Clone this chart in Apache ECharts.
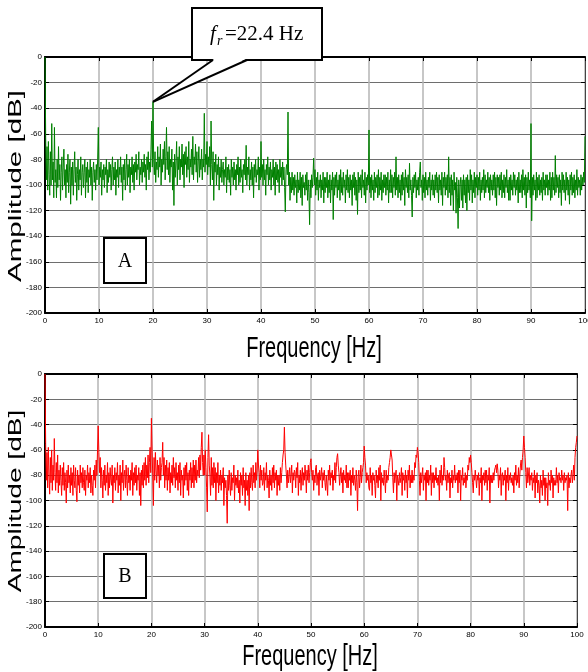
<!DOCTYPE html>
<html>
<head>
<meta charset="utf-8">
<script src="https://cdn.jsdelivr.net/npm/echarts@6/dist/echarts.min.js"></script>
<style>
html,body{margin:0;padding:0;background:#fff;}
#chart{width:588px;height:672px;}
</style>
</head>
<body>
<div id="chart"></div>
<script>
// Sampling step of the spectra (Hz)
const freqStepHz = 0.125;

// Panel A amplitudes [dB], 0..100 Hz, one row per Hz (8 samples)
const ampA = [
  0, -62, -96, -70, -104, -66, -92, -108,
  -74, -100, -52, -96, -82, -110, -55, -98,
  -88, -110, -80, -102, -70, -96, -84, -112,
  -90, -78, -104, -86, -72, -100, -88, -110,
  -84, -98, -76, -106, -90, -80, -115, -86,
  -100, -82, -108, -88, -74, -98, -86, -112,
  -92, -80, -104, -88, -96, -78, -108, -90,
  -84, -102, -90, -80, -110, -86, -98, -82,
  -106, -88, -94, -80, -100, -86, -112, -90,
  -82, -98, -88, -104, -84, -96, -80, -55,
  -100, -86, -94, -82, -108, -88, -96, -84,
  -102, -86, -92, -80, -106, -88, -98, -82,
  -94, -84, -104, -88, -78, -100, -86, -96,
  -82, -108, -88, -94, -80, -102, -86, -92,
  -78, -98, -86, -112, -84, -96, -80, -104,
  -88, -76, -100, -84, -94, -80, -106, -86,
  -92, -78, -98, -84, -104, -82, -90, -76,
  -96, -84, -88, -74, -100, -86, -92, -80,
  -98, -82, -90, -76, -94, -84, -104, -78,
  -88, -74, -96, -82, -90, -72, -50, -86,
  -35, -80, -92, -74, -98, -82, -88, -70,
  -94, -78, -86, -68, -100, -80, -90, -72,
  -84, -66, -96, -78, -55, -88, -74, -92,
  -70, -98, -80, -86, -72, -104, -82, -116,
  -76, -94, -82, -66, -100, -78, -88, -70,
  -96, -80, -86, -68, -92, -76, -102, -74,
  -84, -70, -94, -78, -88, -66, -98, -80,
  -86, -72, -92, -62, -96, -78, -84, -68,
  -90, -74, -98, -82, -70, -94, -80, -88,
  -72, -96, -80, -86, -44, -90, -76, -84,
  -66, -92, -78, -86, -70, -100, -50, -84,
  -96, -74, -112, -82, -90, -76, -100, -84,
  -92, -78, -104, -86, -94, -80, -98, -88,
  -82, -100, -88, -94, -78, -106, -86, -96,
  -84, -98, -88, -108, -80, -94, -86, -100,
  -82, -96, -88, -104, -84, -92, -78, -100,
  -86, -98, -80, -94, -88, -106, -84, -92,
  -80, -96, -69, -100, -86, -92, -78, -104,
  -88, -96, -82, -100, -86, -110, -84, -94,
  -80, -98, -88, -92, -78, -104, -86, -96,
  -66, -94, -84, -100, -80, -96, -88, -108,
  -84, -92, -78, -100, -86, -96, -82, -104,
  -88, -94, -80, -100, -86, -108, -82, -96,
  -84, -98, -88, -106, -80, -94, -86, -100,
  -82, -96, -86, -102, -121, -88, -84, -92,
  -43, -100, -90, -112, -94, -106, -90, -104,
  -94, -108, -92, -102, -96, -114, -90, -106,
  -96, -104, -90, -110, -94, -116, -92, -102,
  -98, -108, -92, -104, -90, -112, -96, -106,
  -131, -96, -110, -92, -102, -94, -79, -100,
  -88, -108, -94, -104, -90, -112, -96, -102,
  -92, -110, -96, -104, -90, -114, -94, -106,
  -94, -102, -90, -110, -96, -106, -92, -114,
  -96, -104, -90, -127, -94, -108, -92, -102,
  -90, -110, -96, -104, -92, -112, -88, -106,
  -94, -108, -90, -102, -96, -114, -92, -104,
  -88, -106, -94, -110, -92, -104, -96, -116,
  -92, -102, -90, -108, -94, -112, -96, -123,
  -90, -106, -94, -104, -92, -110, -88, -102,
  -96, -108, -90, -114, -94, -104, -92, -100,
  -57, -106, -94, -110, -92, -104, -96, -112,
  -90, -106, -94, -102, -92, -110, -88, -108,
  -94, -104, -90, -112, -96, -106, -92, -102,
  -92, -108, -94, -104, -90, -114, -96, -106,
  -88, -106, -92, -110, -94, -102, -90, -108,
  -78, -104, -94, -110, -92, -106, -96, -112,
  -92, -108, -90, -104, -94, -116, -88, -102,
  -94, -106, -92, -110, -83, -104, -96, -108,
  -125, -94, -106, -92, -102, -90, -110, -96,
  -104, -94, -108, -90, -82, -102, -96, -112,
  -92, -106, -94, -110, -90, -104, -96, -108,
  -94, -102, -90, -112, -96, -104, -92, -108,
  -96, -110, -92, -104, -90, -106, -94, -114,
  -92, -104, -96, -108, -90, -116, -94, -102,
  -90, -108, -94, -104, -92, -110, -78, -106,
  -94, -116, -92, -108, -96, -120, -90, -104,
  -98, -122, -94, -110, -134, -96, -118, -100,
  -94, -112, -96, -118, -92, -108, -96, -114,
  -94, -120, -92, -106, -96, -112, -88, -104,
  -92, -114, -96, -106, -90, -110, -94, -102,
  -92, -108, -94, -104, -90, -112, -96, -106,
  -94, -104, -88, -110, -92, -106, -96, -102,
  -90, -106, -94, -112, -92, -104, -96, -108,
  -92, -104, -90, -110, -94, -116, -92, -102,
  -94, -108, -92, -104, -90, -110, -96, -106,
  -92, -110, -94, -102, -88, -106, -96, -112,
  -94, -112, -92, -104, -96, -108, -90, -102,
  -92, -108, -96, -104, -94, -114, -90, -106,
  -96, -106, -92, -110, -88, -104, -94, -108,
  -92, -118, -94, -106, -90, -104, -96, -110,
  -52, -128, -94, -108, -92, -104, -96, -112,
  -90, -110, -94, -104, -92, -108, -96, -106,
  -94, -112, -90, -104, -96, -108, -92, -102,
  -92, -108, -96, -104, -90, -112, -94, -110,
  -90, -104, -94, -108, -77, -106, -92, -102,
  -94, -110, -92, -106, -96, -116, -90, -104,
  -92, -106, -96, -112, -90, -104, -94, -108,
  -96, -115, -92, -104, -90, -108, -94, -106,
  -92, -110, -96, -104, -88, -108, -94, -102,
  -96, -108, -92, -104, -94, -100, -90, -98,
  -62
];

// Panel B amplitudes [dB], 0..100 Hz, one row per Hz (8 samples)
const ampB = [
  0, -55, -84, -62, -90, -58, -80, -95,
  -66, -86, -60, -92, -72, -84, -51, -78,
  -92, -70, -86, -64, -94, -76, -88, -72,
  -84, -96, -74, -88, -70, -92, -78, -86,
  -102, -76, -90, -72, -86, -80, -94, -74,
  -88, -78, -96, -72, -84, -90, -74, -92,
  -101, -76, -88, -80, -94, -72, -86, -78,
  -90, -74, -86, -92, -76, -96, -80, -84,
  -72, -90, -78, -86, -74, -94, -80, -88,
  -96, -76, -84, -72, -90, -68, -80, -60,
  -41, -62, -78, -66, -90, -74, -84, -98,
  -76, -88, -72, -92, -80, -86, -70, -96,
  -78, -90, -74, -84, -88, -72, -102, -80,
  -86, -74, -92, -78, -84, -70, -94, -80,
  -88, -72, -100, -78, -86, -68, -92, -80,
  -76, -90, -72, -84, -96, -74, -86, -80,
  -92, -76, -84, -70, -96, -78, -88, -74,
  -86, -72, -92, -80, -84, -74, -96, -78,
  -104, -76, -88, -72, -90, -70, -84, -66,
  -88, -72, -82, -64, -86, -70, -58, -78,
  -35, -60, -80, -104, -66, -84, -62, -76,
  -86, -68, -80, -72, -90, -66, -84, -74,
  -70, -54, -80, -66, -90, -72, -84, -68,
  -92, -74, -84, -70, -94, -78, -86, -72,
  -88, -66, -82, -74, -90, -70, -84, -78,
  -92, -72, -86, -70, -96, -76, -84, -80,
  -98, -74, -88, -72, -84, -70, -92, -78,
  -96, -76, -84, -70, -90, -74, -86, -68,
  -90, -72, -84, -68, -86, -76, -80, -66,
  -82, -64, -76, -58, -46, -70, -80, -64,
  -80, -60, -74, -90, -109, -66, -48, -72,
  -80, -96, -66, -88, -74, -90, -70, -86,
  -74, -100, -78, -86, -70, -94, -80, -88,
  -76, -92, -80, -86, -74, -104, -82, -90,
  -84, -96, -118, -80, -92, -76, -88, -96,
  -78, -92, -82, -86, -72, -100, -80, -88,
  -82, -90, -76, -94, -84, -102, -78, -88,
  -80, -96, -74, -90, -84, -104, -78, -92,
  -84, -96, -80, -108, -78, -90, -74, -86,
  -92, -72, -86, -78, -90, -70, -84, -76,
  -60, -72, -78, -90, -72, -84, -76, -88,
  -86, -74, -92, -78, -84, -70, -90, -80,
  -84, -98, -76, -88, -80, -92, -74, -86,
  -72, -90, -78, -84, -76, -96, -80, -88,
  -80, -92, -74, -86, -78, -70, -64, -60,
  -42, -62, -72, -80, -90, -76, -86, -80,
  -74, -86, -80, -72, -94, -78, -84, -76,
  -78, -90, -74, -82, -70, -96, -80, -86,
  -76, -92, -80, -74, -88, -78, -84, -72,
  -80, -94, -76, -84, -72, -86, -78, -70,
  -67, -78, -84, -76, -92, -80, -86, -74,
  -72, -88, -80, -78, -96, -76, -84, -80,
  -74, -90, -78, -84, -76, -86, -92, -80,
  -80, -96, -76, -84, -72, -88, -78, -82,
  -76, -92, -80, -84, -70, -86, -74, -66,
  -63, -72, -78, -88, -80, -74, -86, -78,
  -94, -76, -84, -80, -86, -72, -90, -78,
  -90, -78, -84, -76, -96, -80, -86, -74,
  -88, -80, -84, -92, -76, -86, -108, -80,
  -76, -90, -82, -72, -86, -78, -74, -70,
  -57, -66, -72, -86, -78, -84, -80, -90,
  -92, -74, -86, -80, -96, -78, -84, -80,
  -88, -98, -76, -86, -80, -90, -74, -84,
  -72, -100, -78, -86, -82, -88, -76, -84,
  -94, -76, -86, -80, -84, -74, -70, -66,
  -60, -64, -68, -82, -94, -78, -86, -80,
  -76, -100, -80, -84, -88, -78, -86, -82,
  -74, -96, -78, -84, -80, -92, -76, -86,
  -80, -98, -76, -84, -72, -90, -80, -86,
  -76, -86, -80, -84, -70, -74, -64, -66,
  -58, -62, -70, -84, -96, -78, -86, -80,
  -74, -92, -80, -84, -78, -100, -76, -86,
  -76, -88, -80, -84, -72, -96, -78, -86,
  -78, -90, -80, -84, -74, -86, -82, -88,
  -80, -100, -76, -86, -72, -88, -80, -84,
  -66, -74, -84, -80, -92, -76, -86, -80,
  -78, -98, -82, -86, -76, -90, -80, -84,
  -72, -86, -80, -84, -78, -94, -76, -86,
  -76, -100, -80, -84, -74, -88, -82, -86,
  -78, -90, -80, -84, -72, -76, -66, -70,
  -64, -70, -78, -86, -94, -80, -84, -76,
  -76, -90, -80, -84, -78, -96, -82, -86,
  -74, -100, -80, -84, -78, -88, -76, -86,
  -76, -92, -80, -84, -74, -102, -80, -86,
  -80, -86, -78, -84, -76, -74, -72, -78,
  -71, -76, -90, -80, -84, -74, -96, -80,
  -78, -88, -80, -84, -76, -100, -80, -86,
  -74, -92, -80, -84, -78, -86, -82, -88,
  -80, -94, -78, -84, -72, -88, -80, -86,
  -74, -90, -80, -72, -68, -76, -66, -60,
  -49, -58, -66, -78, -90, -74, -86, -80,
  -74, -88, -80, -84, -78, -92, -82, -86,
  -76, -98, -80, -86, -78, -94, -84, -88,
  -102, -80, -90, -84, -96, -76, -88, -82,
  -100, -82, -90, -86, -104, -78, -88, -84,
  -92, -76, -86, -80, -98, -82, -88, -84,
  -88, -74, -86, -80, -94, -78, -84, -82,
  -86, -76, -84, -80, -92, -78, -86, -82,
  -84, -80, -108, -78, -90, -82, -86, -80,
  -76, -86, -80, -72, -84, -66, -58, -54,
  -49
];

// Annotated peak
const peakFreq = 20;
const peakAmp = -35;
const peakLabel = '=22.4 Hz';

const toPairs = arr => arr.map((v, i) => [i * freqStepHz, v]);

const tickFont = 'Liberation Sans Narrow, Liberation Sans, Arial, sans-serif';

function xAxes(gridIndex) {
  return [
    {
      gridIndex, type: 'value', min: 0, max: 100, interval: 10, position: 'bottom',
      axisLine: { show: true, onZero: false, lineStyle: { color: '#000', width: 2 } },
      axisTick: { show: true, inside: true, length: 4, lineStyle: { color: '#000', width: 1 } },
      axisLabel: { fontSize: 8, color: '#000', margin: 4, fontFamily: tickFont },
      splitLine: { show: true, lineStyle: { color: '#b4b4b4', width: 1.5 } }
    },
    {
      gridIndex, type: 'value', min: 0, max: 100, interval: 10, position: 'top',
      axisLine: { show: true, onZero: false, lineStyle: { color: '#000', width: 2 } },
      axisTick: { show: true, inside: true, length: 4, lineStyle: { color: '#000', width: 1 } },
      axisLabel: { show: false },
      splitLine: { show: false }
    }
  ];
}
function yAxes(gridIndex) {
  return [
    {
      gridIndex, type: 'value', min: -200, max: 0, interval: 20, position: 'left',
      axisLine: { show: true, onZero: false, lineStyle: { color: '#000', width: 2 } },
      axisTick: { show: true, inside: true, length: 4, lineStyle: { color: '#000', width: 1 } },
      axisLabel: { fontSize: 8, color: '#000', margin: 3, fontFamily: tickFont },
      splitLine: { show: true, lineStyle: { color: '#6e6e6e', width: 1.2 } }
    },
    {
      gridIndex, type: 'value', min: -200, max: 0, interval: 20, position: 'right',
      axisLine: { show: true, onZero: false, lineStyle: { color: '#444', width: 1 } },
      axisTick: { show: true, inside: true, length: 4, lineStyle: { color: '#000', width: 1 } },
      axisLabel: { show: false },
      splitLine: { show: false }
    }
  ];
}

const chart = echarts.init(document.getElementById('chart'), null, { renderer: 'canvas' });

chart.setOption({
  animation: false,
  backgroundColor: '#fff',
  grid: [
    { left: 45, top: 57, width: 540, height: 256, containLabel: false, outerBoundsMode: 'none' },
    { left: 45, top: 374, width: 532, height: 253, containLabel: false, outerBoundsMode: 'none' }
  ],
  xAxis: [...xAxes(0), ...xAxes(1)],
  yAxis: [...yAxes(0), ...yAxes(1)],
  series: [
    {
      type: 'line', xAxisIndex: 0, yAxisIndex: 0, data: toPairs(ampA),
      showSymbol: false, symbol: 'none', lineStyle: { color: '#008000', width: 1 }, z: 3
    },
    {
      type: 'line', xAxisIndex: 2, yAxisIndex: 2, data: toPairs(ampB),
      showSymbol: false, symbol: 'none', lineStyle: { color: '#ff0000', width: 1 }, z: 3
    }
  ]
});

const tip = chart.convertToPixel({ xAxisIndex: 0, yAxisIndex: 0 }, [peakFreq, peakAmp]);
const serif = 'Liberation Serif, Times New Roman, serif';
const sans = 'Liberation Sans, Arial, sans-serif';

chart.setOption({
  graphic: [
    // callout box
    { type: 'rect', z: 100, shape: { x: 192, y: 8, width: 130, height: 52 },
      style: { fill: '#fff', stroke: '#000', lineWidth: 2 } },
    { type: 'polygon', z: 101, shape: { points: [[214, 59], [tip[0], tip[1]], [246, 59]] },
      style: { fill: '#fff', stroke: null } },
    { type: 'polyline', z: 102, shape: { points: [[213, 60], [tip[0], tip[1]]] },
      style: { stroke: '#000', lineWidth: 2, fill: null } },
    { type: 'polyline', z: 102, shape: { points: [[247, 60], [tip[0], tip[1]]] },
      style: { stroke: '#000', lineWidth: 2, fill: null } },
    { type: 'text', z: 103, x: 210, y: 34,
      style: { text: 'f', font: 'italic 21px ' + serif, fill: '#000', align: 'left', verticalAlign: 'middle' } },
    { type: 'text', z: 103, x: 217, y: 41,
      style: { text: 'r', font: 'italic 14px ' + serif, fill: '#000', align: 'left', verticalAlign: 'middle' } },
    { type: 'text', z: 103, x: 225, y: 34,
      style: { text: peakLabel, font: '21px ' + serif, fill: '#000', align: 'left', verticalAlign: 'middle' } },
    // panel labels
    { type: 'rect', z: 100, shape: { x: 104, y: 238, width: 42, height: 45 },
      style: { fill: '#fff', stroke: '#000', lineWidth: 2 } },
    { type: 'text', z: 103, x: 125, y: 262,
      style: { text: 'A', font: '20px ' + serif, fill: '#000', align: 'center', verticalAlign: 'middle' } },
    { type: 'rect', z: 100, shape: { x: 104, y: 554, width: 42, height: 44 },
      style: { fill: '#fff', stroke: '#000', lineWidth: 2 } },
    { type: 'text', z: 103, x: 125, y: 577,
      style: { text: 'B', font: '20px ' + serif, fill: '#000', align: 'center', verticalAlign: 'middle' } },
    // axis titles
    { type: 'text', z: 103, x: 16, y: 186, rotation: Math.PI / 2, scaleX: 1.64,
      style: { text: 'Amplitude [dB]', font: '18px ' + sans, fill: '#000', align: 'center', verticalAlign: 'middle' } },
    { type: 'text', z: 103, x: 16, y: 501, rotation: Math.PI / 2, scaleX: 1.56,
      style: { text: 'Amplitude [dB]', font: '18px ' + sans, fill: '#000', align: 'center', verticalAlign: 'middle' } },
    { type: 'text', z: 103, x: 314, y: 349, scaleY: 1.45,
      style: { text: 'Frequency [Hz]', font: '20px ' + sans, fill: '#000', align: 'center', verticalAlign: 'middle' } },
    { type: 'text', z: 103, x: 310, y: 657, scaleY: 1.45,
      style: { text: 'Frequency [Hz]', font: '20px ' + sans, fill: '#000', align: 'center', verticalAlign: 'middle' } }
  ]
});
</script>
</body>
</html>
